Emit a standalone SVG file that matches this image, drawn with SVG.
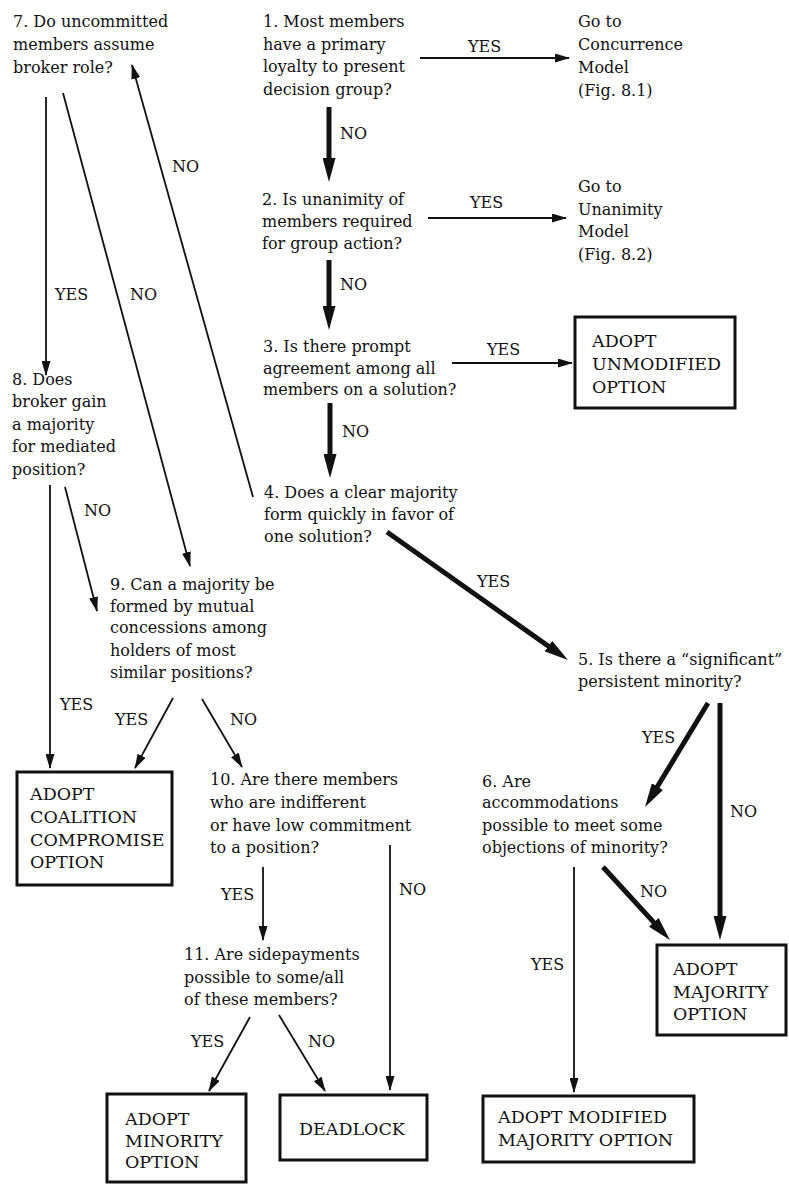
<svg xmlns="http://www.w3.org/2000/svg" width="789" height="1184" viewBox="0 0 789 1184">
<style>
text{font-family:"DejaVu Serif","Liberation Serif",serif;font-size:16px;fill:#111}
.bx text{font-size:17.5px}
.thin{stroke:#111;stroke-width:1.8;fill:none;marker-end:url(#ah)}
.thick{stroke:#111;stroke-width:5;fill:none;marker-end:url(#ahb)}
.box{fill:#fff;stroke:#111;stroke-width:3}
</style>
<defs>
<marker id="ah" markerUnits="userSpaceOnUse" markerWidth="15" markerHeight="9" refX="14" refY="4.5" orient="auto" viewBox="0 0 15 9"><path d="M0,0 L15,4.5 L0,9 z" fill="#111"/></marker>
<marker id="ahb" markerUnits="userSpaceOnUse" markerWidth="24" markerHeight="13" refX="14" refY="6.5" orient="auto" viewBox="0 0 24 13"><path d="M0,0 L24,6.5 L0,13 z" fill="#111"/></marker>
</defs>
<rect width="789" height="1184" fill="#fff"/>

<g id="connectors">
<line class="thin" x1="420" y1="58" x2="569" y2="58"/>
<line class="thin" x1="428" y1="218" x2="566" y2="218"/>
<line class="thin" x1="452" y1="363" x2="572" y2="363"/>
<line class="thick" x1="329" y1="107" x2="329" y2="172"/>
<line class="thick" x1="329" y1="260" x2="329" y2="320"/>
<line class="thick" x1="330" y1="403" x2="330" y2="468"/>
<line class="thick" x1="387" y1="532" x2="559.8" y2="654.2"/>
<line class="thick" x1="708" y1="703" x2="650.2" y2="798.5"/>
<line class="thick" x1="720" y1="703" x2="720" y2="930"/>
<line class="thick" x1="603" y1="867" x2="663.2" y2="932.6"/>
<line class="thin" x1="253" y1="497" x2="132" y2="65"/>
<line class="thin" x1="46" y1="97" x2="46" y2="375"/>
<line class="thin" x1="63" y1="93" x2="190" y2="566"/>
<line class="thin" x1="65" y1="487" x2="97" y2="611"/>
<line class="thin" x1="50" y1="485" x2="50" y2="768"/>
<line class="thin" x1="173" y1="698" x2="135" y2="768"/>
<line class="thin" x1="202" y1="699" x2="242" y2="767"/>
<line class="thin" x1="263" y1="867" x2="263" y2="940"/>
<line class="thin" x1="390" y1="845" x2="390" y2="1090"/>
<line class="thin" x1="250" y1="1017" x2="209" y2="1091"/>
<line class="thin" x1="279" y1="1015" x2="325" y2="1091"/>
<line class="thin" x1="574" y1="867" x2="574" y2="1092"/>
<text x="468" y="52">YES</text>
<text x="340" y="139">NO</text>
<text x="470" y="208">YES</text>
<text x="340" y="290">NO</text>
<text x="487" y="355">YES</text>
<text x="342" y="437">NO</text>
<text x="172" y="172">NO</text>
<text x="55" y="300">YES</text>
<text x="130" y="300">NO</text>
<text x="84" y="516">NO</text>
<text x="477" y="587">YES</text>
<text x="642" y="743">YES</text>
<text x="730" y="817">NO</text>
<text x="640" y="897">NO</text>
<text x="60" y="710">YES</text>
<text x="115" y="725">YES</text>
<text x="230" y="725">NO</text>
<text x="221" y="900">YES</text>
<text x="399" y="895">NO</text>
<text x="531" y="970">YES</text>
<text x="191" y="1047">YES</text>
<text x="308" y="1047">NO</text>
</g>

<g id="n1"><text x="263" y="27">1. Most members</text><text x="263" y="50">have a primary</text><text x="263" y="72">loyalty to present</text><text x="263" y="95">decision group?</text></g>
<g id="concurrence"><text x="578" y="27">Go to</text><text x="578" y="50">Concurrence</text><text x="578" y="73">Model</text><text x="578" y="96">(Fig. 8.1)</text></g>
<g id="n2"><text x="262" y="205">2. Is unanimity of</text><text x="262" y="227">members required</text><text x="262" y="249">for group action?</text></g>
<g id="unanimity"><text x="578" y="192">Go to</text><text x="578" y="215">Unanimity</text><text x="578" y="237">Model</text><text x="578" y="260">(Fig. 8.2)</text></g>
<g id="n3"><text x="263" y="352">3. Is there prompt</text><text x="263" y="374">agreement among all</text><text x="263" y="395">members on a solution?</text></g>
<g id="unmodified" class="bx"><rect class="box" x="575" y="317" width="160" height="91"/><text x="592" y="347">ADOPT</text><text x="592" y="370">UNMODIFIED</text><text x="592" y="393">OPTION</text></g>
<g id="n4"><text x="264" y="498">4. Does a clear majority</text><text x="264" y="520">form quickly in favor of</text><text x="264" y="542">one solution?</text></g>
<g id="n5"><text x="578" y="665">5. Is there a “significant”</text><text x="578" y="687">persistent minority?</text></g>
<g id="n6"><text x="482" y="787">6. Are</text><text x="482" y="808">accommodations</text><text x="482" y="831">possible to meet some</text><text x="482" y="853">objections of minority?</text></g>
<g id="majority" class="bx"><rect class="box" x="657" y="945" width="129" height="90"/><text x="673" y="975">ADOPT</text><text x="673" y="998">MAJORITY</text><text x="673" y="1020">OPTION</text></g>
<g id="modified" class="bx"><rect class="box" x="483" y="1096" width="211" height="66"/><text x="498" y="1123">ADOPT MODIFIED</text><text x="498" y="1146">MAJORITY OPTION</text></g>
<g id="n7"><text x="13" y="27">7. Do uncommitted</text><text x="13" y="50">members assume</text><text x="13" y="73">broker role?</text></g>
<g id="n8"><text x="12" y="385">8. Does</text><text x="12" y="407">broker gain</text><text x="12" y="430">a majority</text><text x="12" y="452">for mediated</text><text x="12" y="475">position?</text></g>
<g id="n9"><text x="110" y="590">9. Can a majority be</text><text x="110" y="612">formed by mutual</text><text x="110" y="633">concessions among</text><text x="110" y="656">holders of most</text><text x="110" y="678">similar positions?</text></g>
<g id="coalition" class="bx"><rect class="box" x="17" y="772" width="155" height="113"/><text x="30" y="800">ADOPT</text><text x="30" y="823">COALITION</text><text x="30" y="846">COMPROMISE</text><text x="30" y="868">OPTION</text></g>
<g id="n10"><text x="210" y="785">10. Are there members</text><text x="210" y="808">who are indifferent</text><text x="210" y="831">or have low commitment</text><text x="210" y="853">to a position?</text></g>
<g id="n11"><text x="184" y="960">11. Are sidepayments</text><text x="184" y="983">possible to some/all</text><text x="184" y="1005">of these members?</text></g>
<g id="minority" class="bx"><rect class="box" x="107" y="1094" width="139" height="88"/><text x="125" y="1125">ADOPT</text><text x="125" y="1147">MINORITY</text><text x="125" y="1168">OPTION</text></g>
<g id="deadlock" class="bx"><rect class="box" x="280" y="1095" width="147" height="65"/><text x="299" y="1135">DEADLOCK</text></g>
</svg>
